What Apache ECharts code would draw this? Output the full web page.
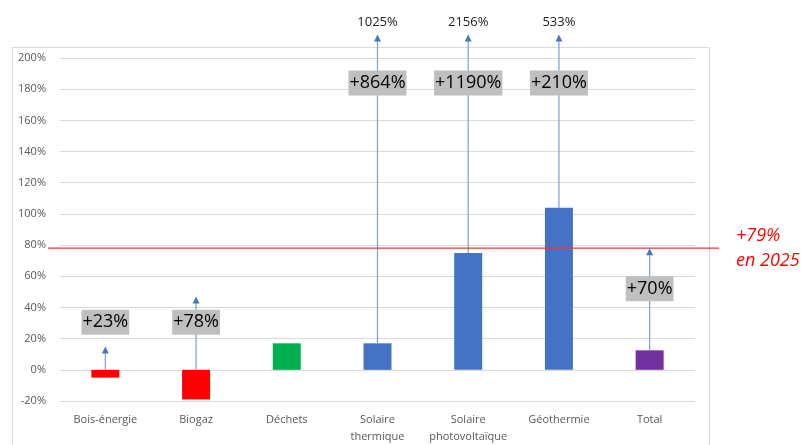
<!DOCTYPE html>
<html>
<head>
<meta charset="utf-8">
<script src="https://cdn.jsdelivr.net/npm/echarts@6/dist/echarts.min.js"></script>
<style>html,body{margin:0;padding:0;background:#fff}#c{width:805px;height:445px}</style>
</head>
<body>
<div id="c"></div>
<script>
const categories = ['Bois-énergie', 'Biogaz', 'Déchets', 'Solaire\nthermique', 'Solaire\nphotovoltaïque', 'Géothermie', 'Total'];
const barValues = [-5, -19, 17, 17, 75, 104, 12.5];
const barColors = ['#FF0000', '#FF0000', '#00B050', '#4472C4', '#4472C4', '#4472C4', '#7030A0'];
const arrowStart = [0, 0, null, 17, 75, 104, 12.5];
const arrowEnd = [15, 47, null, 215, 215, 215, 78];
const growthLabels = ['+23%', '+78%', null, '+864%', '+1190%', '+210%', '+70%'];
const growthLabelPos = [30.5, 30.5, null, 184, 184, 184, 52];
const topLabels = [null, null, null, '1025%', '2156%', '533%', null];
const topLabelPos = 223;
const targetValue = 78;
const targetText = '+79%\nen 2025';
const yTicks = { min: -20, max: 200, interval: 20 };

const chart = echarts.init(document.getElementById('c'), null, { renderer: 'canvas' });
const FONT = '"Open Sans", sans-serif';

const arrowData = [];
categories.forEach((c, i) => { if (arrowStart[i] !== null) arrowData.push([i, arrowStart[i], arrowEnd[i]]); });
const growthData = [];
categories.forEach((c, i) => { if (growthLabels[i]) growthData.push({ value: [i, growthLabelPos[i]], label: growthLabels[i] }); });
const topData = [];
categories.forEach((c, i) => { if (topLabels[i]) topData.push({ value: [i, topLabelPos], label: topLabels[i] }); });

chart.setOption({
  animation: false,
  backgroundColor: '#fff',
  graphic: [{
    type: 'rect', left: 10, top: 45, z: -10,
    shape: { width: 697, height: 420 },
    style: { fill: 'none', stroke: '#D9D9D9', lineWidth: 1 }
  }],
  grid: { left: 60, right: 110, top: 58, bottom: 43, containLabel: false },
  xAxis: {
    type: 'category', data: categories,
    axisLine: { show: false }, axisTick: { show: false },
    axisLabel: { interval: 0, color: '#595959', fontSize: 11, fontFamily: FONT, lineHeight: 17, margin: 10 }
  },
  yAxis: {
    type: 'value', min: yTicks.min, max: yTicks.max, interval: yTicks.interval,
    axisLine: { show: false }, axisTick: { show: false },
    splitLine: { lineStyle: { color: '#D9D9D9', width: 1 } },
    axisLabel: { color: '#595959', fontSize: 11, fontFamily: FONT, formatter: v => v + '%', margin: 14 }
  },
  series: [
    {
      type: 'bar', barWidth: 28, z: 2,
      data: barValues.map((v, i) => ({ value: v, itemStyle: { color: barColors[i] } }))
    },
    {
      type: 'custom', clip: false, z: 3,
      data: arrowData,
      renderItem: (params, api) => {
        const p0 = api.coord([api.value(0), api.value(1)]);
        const p1 = api.coord([api.value(0), api.value(2)]);
        const x = p0[0];
        return {
          type: 'group', children: [
            { type: 'line', shape: { x1: x, y1: p0[1], x2: x, y2: p1[1] + 5 }, style: { stroke: '#7FA6D6', lineWidth: 1.3 } },
            { type: 'polygon', shape: { points: [[x, p1[1]], [x - 3.5, p1[1] + 7], [x + 3.5, p1[1] + 7]] }, style: { fill: '#4A78B8' } }
          ]
        };
      }
    },
    {
      type: 'custom', clip: false, z: 4,
      data: [[0, targetValue]],
      renderItem: (params, api) => {
        const cs = params.coordSys;
        const y = api.coord([0, api.value(1)])[1];
        return {
          type: 'group', children: [
            { type: 'line', shape: { x1: cs.x - 12, y1: y, x2: cs.x + cs.width + 24, y2: y }, style: { stroke: '#E03C3C', lineWidth: 1.2 } },
            { type: 'text', style: { x: cs.x + cs.width + 41, y: y, text: targetText, fill: '#FF0000', font: 'italic 18px ' + FONT, lineHeight: 25, verticalAlign: 'middle', align: 'left' } }
          ]
        };
      }
    },
    {
      type: 'scatter', symbolSize: 0, z: 5, silent: true, clip: false,
      itemStyle: { opacity: 1 },
      data: growthData,
      label: {
        show: true, position: 'inside', formatter: p => p.data.label, opacity: 1,
        backgroundColor: '#BFBFBF', color: '#000000', fontSize: 18, fontFamily: FONT,
        padding: [3, 1, 2, 1], lineHeight: 20
      }
    },
    {
      type: 'scatter', symbolSize: 0, z: 5, silent: true, clip: false,
      itemStyle: { opacity: 1 },
      data: topData,
      label: {
        show: true, position: 'inside', formatter: p => p.data.label, opacity: 1,
        color: '#222222', fontSize: 13, fontFamily: FONT
      }
    }
  ]
});
</script>
</body>
</html>
